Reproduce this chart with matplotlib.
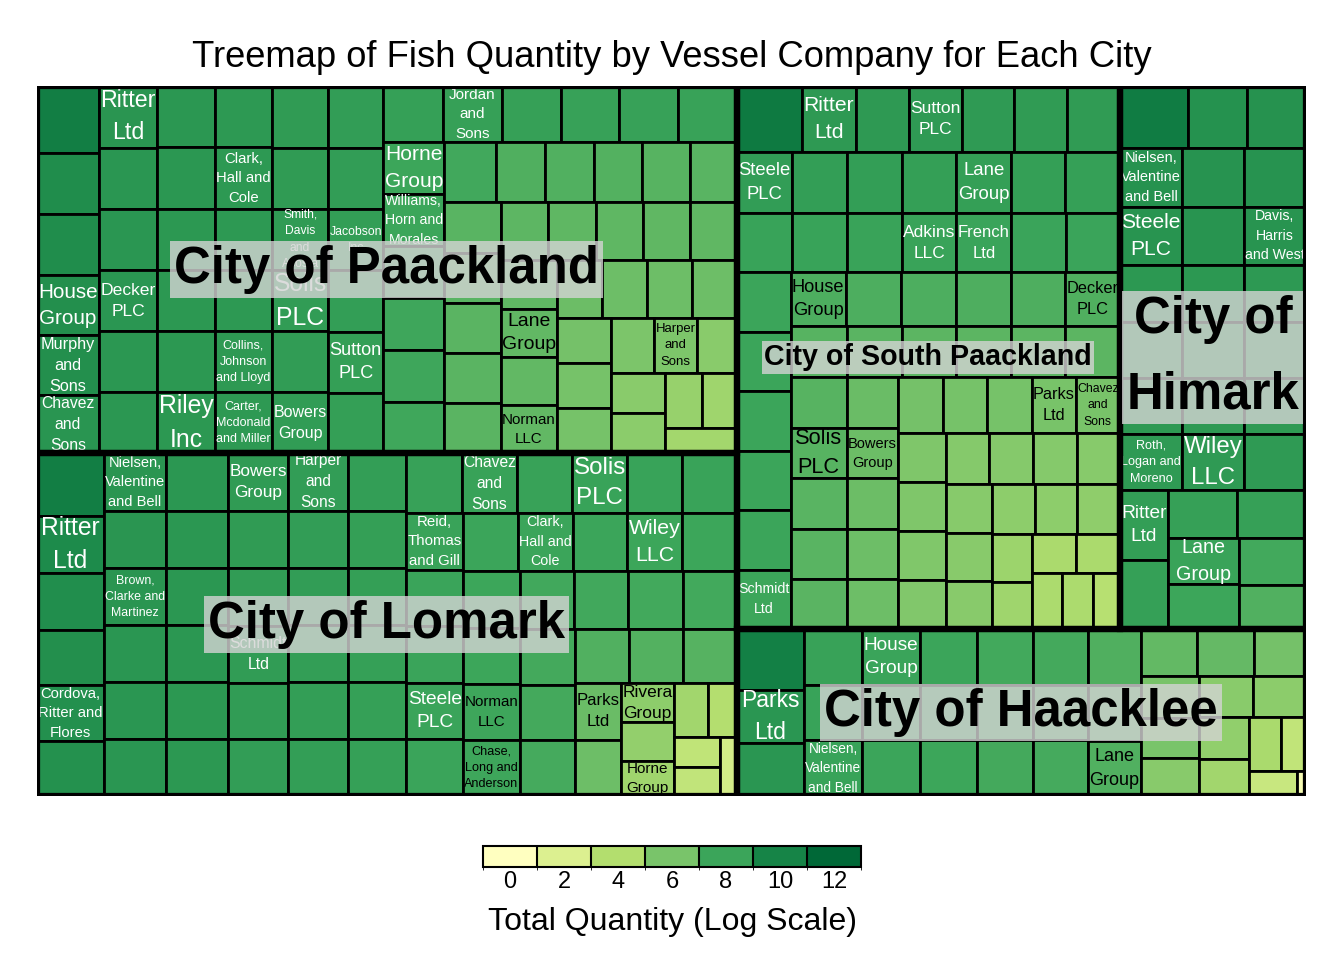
import numpy as np
import matplotlib
matplotlib.use("Agg")
import matplotlib.pyplot as plt
from matplotlib.colors import LinearSegmentedColormap, ListedColormap, Normalize, BoundaryNorm
from matplotlib.patches import Rectangle
from matplotlib.cm import ScalarMappable

plt.rcParams['font.family'] = ['Liberation Sans', 'DejaVu Sans']

## log(total fish quantity) per vessel company, one list per city, largest first
## only the companies whose name fits in the tile carry a label (rank -> name)

cities = ["City of Paackland", "City of Lomark", "City of South Paackland",
          "City of Himark", "City of Haacklee"]

paackland_qty = [10.39, 9.46, 9.45, 9.30, 9.29, 8.99,
                 8.92, 8.90, 8.88, 8.87, 8.85, 8.84,
                 8.83, 8.82, 8.81, 8.80, 8.79, 8.78,
                 8.75, 8.74, 8.73, 8.72, 8.71, 8.70,
                 8.62, 8.60, 8.58, 8.56, 8.54, 8.52,
                 8.48, 8.45, 8.42, 8.40, 8.38, 8.35,
                 8.30, 8.27, 8.25, 8.23, 8.21, 8.19,
                 7.96, 7.94, 7.92, 7.90, 7.88, 7.86,
                 7.80, 7.35, 7.30, 7.25, 7.10, 7.05,
                 7.05, 7.04, 7.03, 7.02, 7.00,
                 6.90, 6.87, 6.85, 6.82, 6.80,
                 6.80, 6.79, 6.78, 6.77,
                 6.45, 6.42, 6.40, 6.38,
                 6.15, 6.12, 6.10,
                 5.95, 5.90, 5.45,
                 5.45, 5.40,
                 5.00, 4.70,
                 4.55]
paackland_names = {3: "House Group", 4: "Murphy and Sons", 5: "Chavez and Sons",
                   6: "Ritter Ltd", 9: "Decker PLC", 17: "Riley Inc",
                   19: "Clark, Hall and Cole", 22: "Collins, Johnson and Lloyd",
                   23: "Carter, Mcdonald and Miller", 26: "Smith, Davis and Acosta",
                   27: "Solis PLC", 29: "Bowers Group", 32: "Jacobson Inc",
                   34: "Sutton PLC", 37: "Jordan and Sons", 42: "Horne Group",
                   43: "Williams, Horn and Morales", 65: "Lane Group",
                   67: "Norman LLC", 76: "Harper and Sons"}

lomark_qty = [10.39, 9.60, 9.40, 9.30, 9.25, 9.20,
              8.95, 8.93, 8.91, 8.89, 8.87, 8.86,
              8.85, 8.84, 8.83, 8.82, 8.81, 8.80,
              8.62, 8.59, 8.56, 8.53, 8.50, 8.47,
              8.46, 8.45, 8.44, 8.43, 8.42, 8.41,
              8.40, 8.38, 8.36, 8.34, 8.32, 8.30,
              8.24, 8.20, 8.17, 8.14, 8.11, 8.08,
              8.07, 8.06, 8.05, 8.04, 8.03,
              7.99, 7.98, 7.97, 7.96, 7.95,
              7.94, 7.93, 7.90, 7.89,
              7.82, 7.80, 7.78, 7.76,
              7.72, 7.70, 7.68,
              7.30, 7.25, 7.15,
              6.50, 6.40,
              5.30, 5.15, 4.65, 4.60, 3.95, 3.40, 3.30, 2.45]
lomark_names = {1: "Ritter Ltd", 4: "Cordova, Ritter and Flores",
                6: "Nielsen, Valentine and Bell", 8: "Brown, Clarke and Martinez",
                18: "Bowers Group", 21: "Schmidt Ltd", 24: "Harper and Sons",
                37: "Chavez and Sons", 39: "Solis PLC", 42: "Reid, Thomas and Gill",
                45: "Steele PLC", 48: "Clark, Hall and Cole", 50: "Wiley LLC",
                54: "Norman LLC", 55: "Chase, Long and Anderson", 66: "Parks Ltd",
                68: "Rivera Group", 70: "Horne Group"}

south_qty = [10.73, 8.70, 8.68, 8.66, 8.64, 8.62, 8.60,
             8.45, 8.43, 8.41, 8.39, 8.37, 8.35, 8.33,
             8.15, 8.12, 8.10, 8.08, 8.06, 8.04, 8.02,
             8.01, 8.00, 7.99, 7.98, 7.97, 7.96,
             7.45, 7.43, 7.41, 7.39, 7.37, 7.35,
             7.12, 7.10, 7.08, 7.06, 7.04, 7.02,
             7.00, 6.98, 6.97, 6.96, 6.95,
             6.48, 6.46, 6.44, 6.42, 6.40,
             6.15, 6.13, 6.11, 6.09, 6.07,
             5.85, 5.82, 5.79, 5.76,
             5.62, 5.60, 5.58, 5.56,
             5.55, 5.53, 5.51,
             5.33, 5.30, 5.27,
             4.80, 4.72,
             4.30, 4.27,
             4.25, 4.24, 3.80]
south_names = {1: "Ritter Ltd", 3: "Sutton PLC", 7: "Steele PLC", 11: "Lane Group",
               17: "Adkins LLC", 18: "French Ltd", 26: "Schmidt Ltd",
               27: "House Group", 32: "Decker PLC", 35: "Solis PLC",
               45: "Bowers Group", 52: "Parks Ltd", 53: "Chavez and Sons"}

himark_qty = [10.54, 9.16, 9.14,
              9.10, 9.08, 9.06,
              9.04, 9.02, 9.00,
              8.80, 8.78, 8.76,
              8.75, 8.73, 8.71,
              8.70, 8.68, 8.66,
              8.65, 8.64, 8.63,
              8.42, 8.30, 8.28, 8.26, 8.10, 7.95, 7.75, 7.30]
himark_names = {3: "Nielsen, Valentine and Bell", 6: "Steele PLC",
                8: "Davis, Harris and West", 18: "Roth, Logan and Moreno",
                19: "Wiley LLC", 21: "Ritter Ltd", 25: "Lane Group"}

haacklee_qty = [10.22, 8.90, 8.86,
                8.18, 8.15, 8.12,
                8.02, 8.00, 7.98,
                7.97, 7.95, 7.93,
                7.76, 7.73, 7.70,
                7.69, 7.67, 7.65,
                7.34, 7.31, 7.28,
                6.72, 6.68, 6.15,
                6.05, 6.00, 5.50, 5.48, 5.36, 5.18, 4.62, 4.32, 3.36, 2.97, 0.55]
haacklee_names = {1: "Parks Ltd", 5: "Nielsen, Valentine and Bell",
                  6: "House Group", 20: "Lane Group"}

city_qty = [paackland_qty, lomark_qty, south_qty, himark_qty, haacklee_qty]
city_names = [paackland_names, lomark_names, south_names, himark_names, haacklee_names]

# text / size of the big city captions
city_caption = ["City of Paackland", "City of Lomark", "City of South Paackland",
                "City of\nHimark", "City of Haacklee"]
city_caption_size = [36.7, 36.7, 20.6, 36.7, 36.7]

palette = ['#FFFFC0', '#DCF08F', '#B3DE6E', '#7AC46A', '#3BA55A', '#168447', '#006837']
cmap = LinearSegmentedColormap.from_list('ylgn', palette)
norm = Normalize(0, 12)


def first_ratio(row, side):
    thick = sum(row) / side
    length = row[0] / thick
    return max(thick / length, length / thick)


def squarify(vals, x, y, w, h):
    scale = w * h / sum(vals)
    areas = [v * scale for v in vals]
    rects = []
    i = 0
    while i < len(areas):
        side = min(w, h)
        row = [areas[i]]
        j = i + 1
        while j < len(areas) and first_ratio(row + [areas[j]], side) <= first_ratio(row, side):
            row.append(areas[j])
            j += 1
        thick = sum(row) / side
        pos = 0
        for a in row:
            length = a / thick
            if w >= h:
                rects.append((x, y + pos, thick, length))
            else:
                rects.append((x + pos, y, length, thick))
            pos += length
        if w >= h:
            x += thick
            w -= thick
        else:
            y += thick
            h -= thick
        i = j
    return rects


fig = plt.figure(figsize=(13.44, 9.6), dpi=100)
W, H = 1269, 710
ax = fig.add_axes([37 / 1344, 1 - 796 / 960, W / 1344, H / 960])
ax.set_xlim(0, W)
ax.set_ylim(H, 0)
ax.axis('off')
renderer = fig.canvas.get_renderer()


def fit_label(name, x, y, w, h, color):
    t = ax.text(x + w / 2, y + h / 2, name, ha='center', va='center',
                multialignment='center', color=color, linespacing=1.5,
                fontsize=10, zorder=2)
    words = name.split()
    best, best_txt = (0, 0), name
    for mask in range(2 ** (len(words) - 1)):
        lines = [words[0]]
        for b, wd in enumerate(words[1:]):
            if mask >> b & 1:
                lines.append(wd)
            else:
                lines[-1] += ' ' + wd
        txt = '\n'.join(lines)
        t.set_text(txt)
        bb = t.get_window_extent(renderer)
        s = 10 * min((w - 2.5) / bb.width, (h + 2) / bb.height)
        key = (round(s, 2), -bb.width)
        if key > best:
            best, best_txt = key, txt
    t.set_text(best_txt)
    t.set_fontsize(min(best[0], 18))


order = sorted(range(len(cities)), key=lambda k: -sum(city_qty[k]))
city_rects = squarify([sum(city_qty[k]) for k in order], 0, 0, W, H)

for k, (cx, cy, cw, ch) in zip(order, city_rects):
    vals = city_qty[k]
    idx = sorted(range(len(vals)), key=lambda i: -vals[i])
    tiles = squarify([vals[i] for i in idx], cx, cy, cw, ch)
    for i, (tx, ty, tw, th) in zip(idx, tiles):
        ax.add_patch(Rectangle((tx, ty), tw, th, facecolor=cmap(norm(vals[i])),
                               edgecolor='black', lw=2.0, zorder=1))
        name = city_names[k].get(i)
        if name:
            col = 'white' if norm(vals[i]) >= 0.66 else 'black'
            fit_label(name, tx, ty, tw, th, col)
    ax.add_patch(Rectangle((cx, cy), cw, ch, fill=False, edgecolor='black',
                           lw=4.5, zorder=3))
    ax.text(cx + cw / 2, cy + ch / 2, city_caption[k], ha='center', va='center',
            multialignment='center', fontsize=city_caption_size[k],
            fontweight='bold', color='black', linespacing=1.7, zorder=4,
            bbox=dict(boxstyle='square,pad=0.08', facecolor=(0.83, 0.83, 0.83),
                      edgecolor='none', alpha=0.8))

fig.text(0.5, 1 - 67 / 960, "Treemap of Fish Quantity by Vessel Company for Each City",
         ha='center', va='baseline', fontsize=26.2)

# stepped colour legend
centers = np.arange(0, 13, 2)
step_cmap = ListedColormap([cmap(norm(c)) for c in centers])
step_norm = BoundaryNorm(np.arange(-1, 14, 2), step_cmap.N)
cax = fig.add_axes([483 / 1344, 1 - 867 / 960, 378 / 1344, 21 / 960])
cb = fig.colorbar(ScalarMappable(norm=step_norm, cmap=step_cmap), cax=cax,
                  orientation='horizontal', ticks=centers, drawedges=True)
cb.outline.set_linewidth(1.5)
cb.outline.set_edgecolor('black')
cb.dividers.set_color('black')
cb.dividers.set_linewidth(1.5)
cax.tick_params(length=0, labelsize=17, pad=3)
cax.set_xticklabels([str(c) for c in centers])
fig.text(672 / 1344, 1 - 930 / 960, "Total Quantity (Log Scale)",
         ha='center', va='baseline', fontsize=23)

fig.savefig('out.png', dpi=100)
